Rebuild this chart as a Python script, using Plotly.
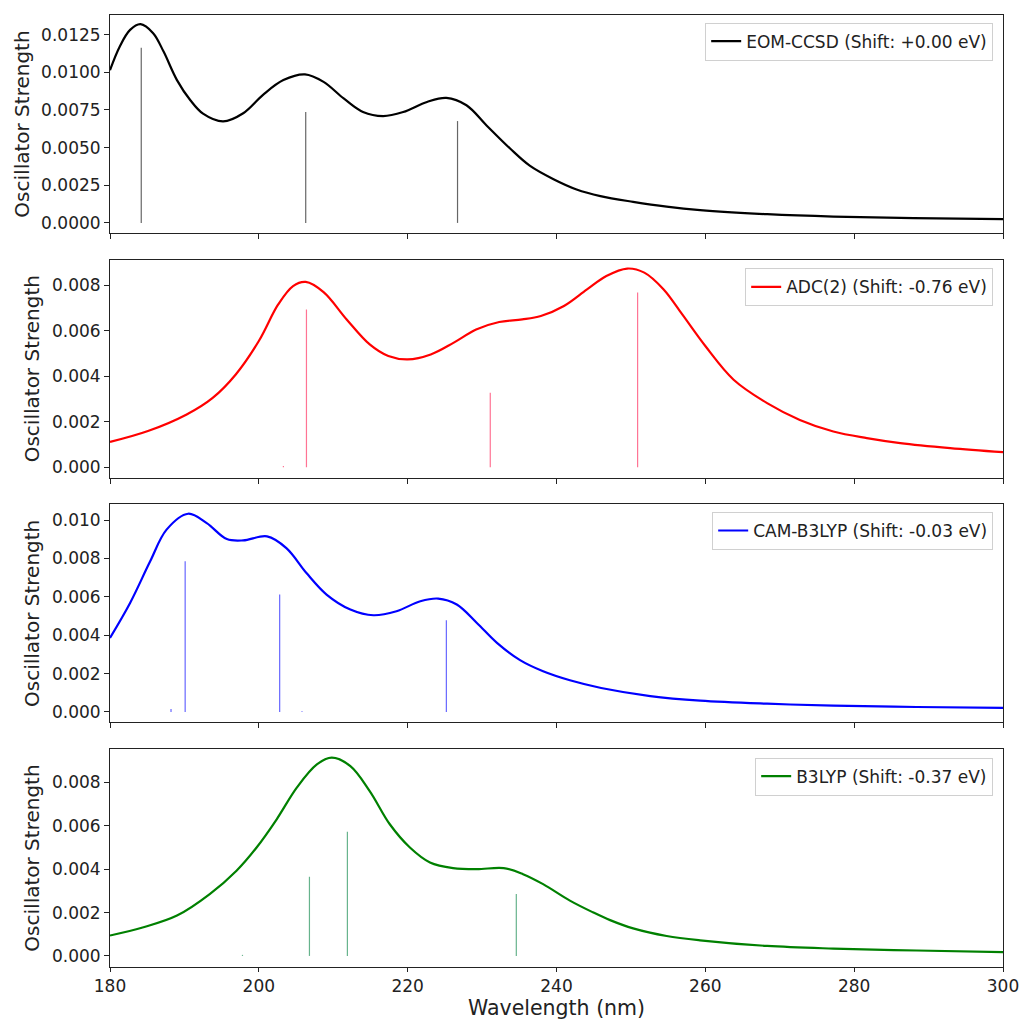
import plotly.graph_objects as go
from plotly.subplots import make_subplots

# ---------------- data ----------------
methods = ["EOM-CCSD", "ADC(2)", "CAM-B3LYP", "B3LYP"]
shifts = ["+0.00", "-0.76", "-0.03", "-0.37"]
colors = ["#000000", "#ff0000", "#0000ff", "#008000"]
stick_colors = ["rgba(0,0,0,0.6)", "rgba(255,0,60,0.55)", "rgba(0,0,255,0.6)", "rgba(0,128,64,0.6)"]

eom_wl = [180, 181.3, 182.7, 184.1, 185.8, 187.2, 189.0, 190.8, 192.5, 195.2, 197.9, 200.6, 203.3,
          206.2, 208.7, 211.4, 214.0, 216.7, 219.4, 222.6, 225.2, 227.9, 230.6, 233.8, 236.4, 239.6,
          242.7, 245.9, 250.3, 254.8, 259.3, 268.3, 277.2, 288, 300]
eom_f = [0.01014, 0.01170, 0.01281, 0.01319, 0.01259, 0.01137, 0.00948, 0.00814, 0.00725, 0.00674,
         0.00728, 0.00852, 0.00948, 0.00986, 0.00936, 0.00826, 0.00736, 0.00709, 0.00736, 0.00803,
         0.00830, 0.00781, 0.00647, 0.00492, 0.00380, 0.00290, 0.00222, 0.00178, 0.00140, 0.00108,
         0.00085, 0.00058, 0.00042, 0.00032, 0.00025]

adc_wl = [180, 185.1, 190.3, 193.8, 196.9, 200.0, 202.6, 204.6, 206.3, 208.7, 211.8, 214.9, 217.4,
          220.0, 223.1, 226.2, 229.2, 232.3, 235.4, 237.9, 241.0, 244.1, 246.7, 249.5, 251.8, 254.4,
          256.9, 260.0, 263.8, 268.3, 272.7, 277.2, 281.7, 286.2, 292.9, 300]
adc_f = [0.00111, 0.00159, 0.00232, 0.00305, 0.00408, 0.00555, 0.00716, 0.00797, 0.00815, 0.00770,
         0.00650, 0.00540, 0.00489, 0.00474, 0.00496, 0.00548, 0.00606, 0.00639, 0.00650, 0.00665,
         0.00709, 0.00782, 0.00841, 0.00874, 0.00856, 0.00782, 0.00672, 0.00533, 0.00385, 0.00282,
         0.00208, 0.00157, 0.00128, 0.00106, 0.00084, 0.00066]

cam_wl = [180, 182.7, 185.4, 187.6, 190.5, 193.0, 195.7, 197.9, 201.1, 203.7, 206.4, 209.1, 212.3,
          215.4, 218.5, 221.7, 224.1, 226.6, 229.3, 232.0, 235.1, 238.2, 241.8, 246.0, 252.6, 259.3,
          268.3, 277.2, 288.4, 300]
cam_f = [0.00386, 0.00568, 0.00785, 0.00950, 0.01033, 0.00984, 0.00901, 0.00894, 0.00915, 0.00854,
         0.00724, 0.00612, 0.00534, 0.00504, 0.00525, 0.00577, 0.00591, 0.00560, 0.00464, 0.00360,
         0.00270, 0.00212, 0.00165, 0.00125, 0.00083, 0.00059, 0.00043, 0.00033, 0.00026, 0.00021]

b3_wl = [180, 184.5, 189.0, 193.4, 197.0, 199.7, 202.4, 205.1, 207.8, 209.8, 212.3, 214.9, 217.6,
         220.3, 223.0, 226.1, 229.3, 232.9, 235.5, 238.2, 241.8, 244.9, 247.2, 250.3, 254.8, 259.3,
         268.3, 277.2, 288.4, 300]
b3_f = [0.00094, 0.00132, 0.00186, 0.00285, 0.00393, 0.00500, 0.00630, 0.00776, 0.00883, 0.00914,
        0.00875, 0.00760, 0.00607, 0.00500, 0.00431, 0.00405, 0.00400, 0.00405, 0.00377, 0.00331,
        0.00255, 0.00201, 0.00165, 0.00127, 0.00092, 0.00072, 0.00046, 0.00034, 0.00025, 0.00018]

# transitions (sticks)
eom_stick_wl = [184.2, 206.3, 226.7]
eom_stick_f = [0.01163, 0.00736, 0.00676]
adc_stick_wl = [203.3, 206.4, 231.1, 250.9]
adc_stick_f = [0.00005, 0.00694, 0.00327, 0.00768]
cam_stick_wl = [188.2, 190.1, 202.8, 205.8, 225.2]
cam_stick_f = [0.00015, 0.00785, 0.00612, 0.00004, 0.00478]
b3_stick_wl = [197.8, 206.8, 211.9, 234.6]
b3_stick_f = [0.00005, 0.00365, 0.00573, 0.00285]

curves = [(eom_wl, eom_f), (adc_wl, adc_f), (cam_wl, cam_f), (b3_wl, b3_f)]
sticks = [(eom_stick_wl, eom_stick_f), (adc_stick_wl, adc_stick_f),
          (cam_stick_wl, cam_stick_f), (b3_stick_wl, b3_stick_f)]

y_ranges = [[-0.00067, 0.0138], [-0.00046, 0.00913], [-0.00054, 0.01082], [-0.00051, 0.00954]]
y_dticks = [0.0025, 0.002, 0.002, 0.002]
y_formats = [".4f", ".3f", ".3f", ".3f"]

FONT = "DejaVu Sans"

fig = make_subplots(rows=4, cols=1, shared_xaxes=True, vertical_spacing=0.028)

legend_names = ["legend", "legend2", "legend3", "legend4"]
for i in range(4):
    r = i + 1
    sx, sf = sticks[i]
    xs, ys = [], []
    for w, f in zip(sx, sf):
        xs += [w, w, None]
        ys += [0, f, None]
    fig.add_trace(go.Scatter(x=xs, y=ys, mode="lines",
                             line=dict(color=stick_colors[i], width=1.2),
                             showlegend=False, hoverinfo="skip"), row=r, col=1)
    cx, cy = curves[i]
    fig.add_trace(go.Scatter(x=cx, y=cy, mode="lines", line_shape="spline",
                             line=dict(color=colors[i], width=2.2, smoothing=1.0),
                             name=f"{methods[i]} (Shift: {shifts[i]} eV)",
                             legend=legend_names[i]), row=r, col=1)

axis_common = dict(showline=True, linecolor="#222", linewidth=1, mirror=True,
                   ticks="outside", tickcolor="#222", showgrid=False,
                   zeroline=False, tickfont=dict(family=FONT, size=17, color="#222"))

for i in range(4):
    r = i + 1
    fig.update_xaxes(range=[180, 300], tickvals=[180, 200, 220, 240, 260, 280, 300],
                     showticklabels=(r == 4), ticklen=(4 if r == 4 else 5),
                     row=r, col=1, **axis_common)
    fig.update_yaxes(range=y_ranges[i], dtick=y_dticks[i], tick0=0, tickformat=y_formats[i],
                     ticklen=5,
                     title=dict(text="Oscillator Strength", font=dict(family=FONT, size=20, color="#222"),
                                standoff=6),
                     row=r, col=1, **axis_common)

# x-axis title as a paper annotation just under the tick labels
fig.add_annotation(text="Wavelength (nm)", xref="paper", yref="paper", x=0.5, y=0,
                   xanchor="center", yanchor="top", yshift=-28, borderpad=0, showarrow=False,
                   font=dict(family=FONT, size=20.5, color="#222"))

legend_style = dict(bgcolor="rgba(255,255,255,0.8)", bordercolor="#d0d0d0", borderwidth=1,
                    font=dict(family=FONT, size=17, color="#222"),
                    xanchor="right", yanchor="top", x=0.989)
legend_y = [0.992, 0.734, 0.478, 0.220]

fig.update_layout(
    width=1024, height=1020,
    margin=dict(l=110, r=21, t=15, b=53, autoexpand=False),
    paper_bgcolor="white", plot_bgcolor="white",
    font=dict(family=FONT, color="#222"),
    legend=dict(y=legend_y[0], **legend_style),
    legend2=dict(y=legend_y[1], **legend_style),
    legend3=dict(y=legend_y[2], **legend_style),
    legend4=dict(y=legend_y[3], **legend_style),
)

fig.write_html("out.html", config={"displayModeBar": False},
               post_script="document.body.style.margin='0px';document.body.style.overflow='hidden';")
